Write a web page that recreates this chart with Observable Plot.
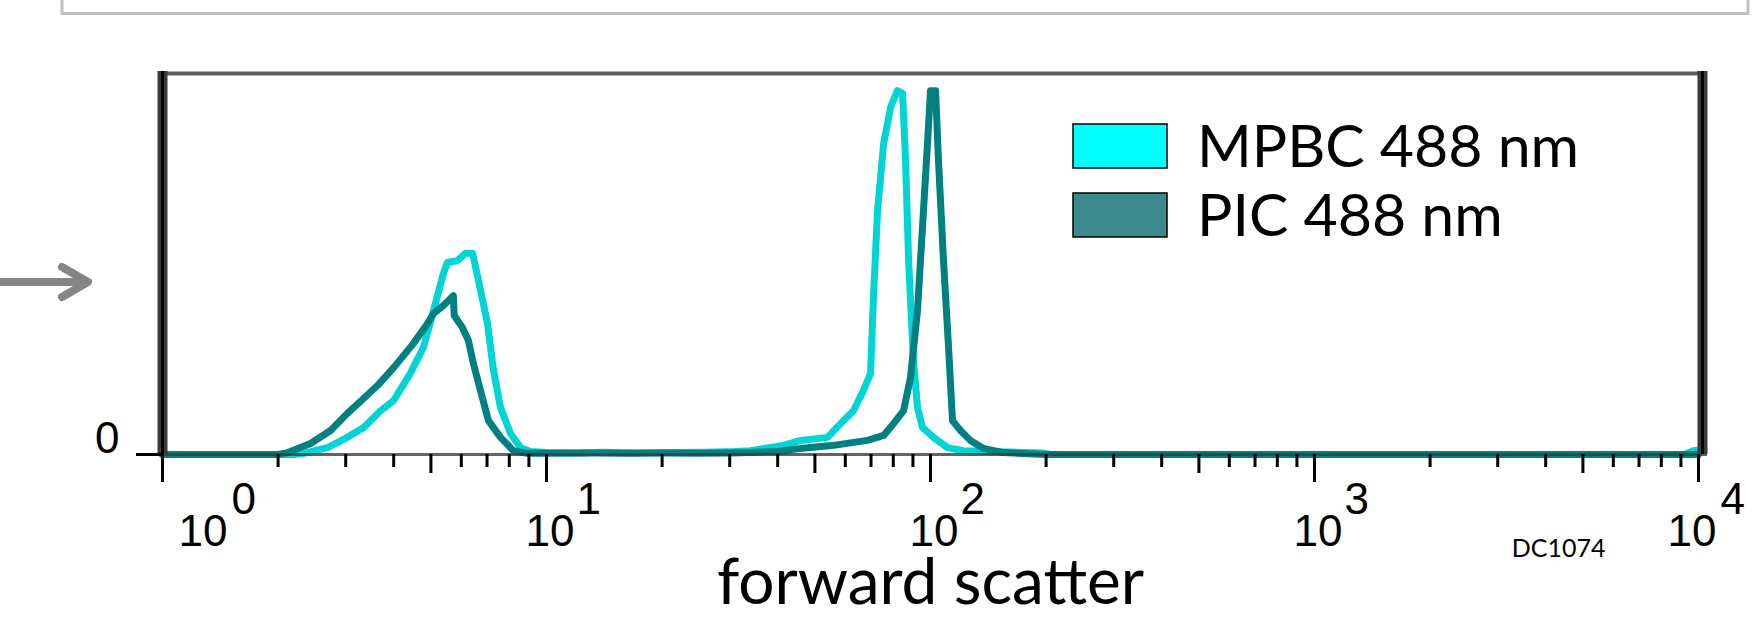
<!DOCTYPE html>
<html><head><meta charset="utf-8">
<script src="https://cdn.jsdelivr.net/npm/d3@7"></script>
<script src="https://cdn.jsdelivr.net/npm/@observablehq/plot@0.6"></script>
<style>
body{margin:0;background:#fff;}
#wrap{position:relative;width:1762px;height:617px;overflow:hidden;background:#fff;}
#overlay{position:absolute;left:0;top:0;}
#chart svg{display:block;}
</style></head><body>
<div id="wrap"><div id="chart"></div></div>
<script>
// ---- data ----
const seriesNames = ["MPBC 488 nm", "PIC 488 nm"];
const mpbcFsc = [1, 2.2, 2.33, 2.69, 3.03, 3.34, 3.7, 4.0, 4.42, 4.78, 5.08, 5.39, 5.52, 5.86, 6.15, 6.42, 6.65, 7.02, 7.28, 7.59, 8.06, 8.56, 9.08,
  10, 12, 14, 17, 21, 26, 31, 34, 41.4, 45.9, 53.9, 58.3, 63.0, 66.9, 69.8, 71.1, 72.8, 75.5, 78.7, 82.0, 84.6, 86.1, 87.7, 90.3, 92.5, 95.3,
  101.8, 110.7, 121.8, 150, 195, 205, 9200, 9700, 10000];
const mpbcCount = [0, 0, 0.3, 1.8, 4.5, 7.1, 11.5, 14.2, 21.3, 28.1, 37.8, 47.5, 50.4, 50.9, 52.8, 52.8, 45.7, 34.4, 22.0, 12.3, 5.5, 1.8, 0.8,
  0.5, 0.4, 0.6, 0.4, 0.5, 0.6, 0.8, 1.0, 2.4, 3.7, 4.5, 8.1, 11.5, 16.8, 21.3, 42.3, 64.0, 81.6, 91.1, 95.5, 94.8, 77.2, 50.9, 24.7, 12.3, 7.1,
  4.5, 1.8, 1.0, 0.7, 0.4, 0, 0, 1.0, 1.2];
const picFsc = [1, 2.0, 2.12, 2.43, 2.74, 3.03, 3.34, 3.63, 4.0, 4.5, 4.9, 5.08, 5.39, 5.72, 5.75, 6.04, 6.26, 6.45, 6.73, 7.06, 7.59, 8.2, 8.92,
  10, 13, 16, 20, 25, 30, 34, 40, 45.9, 55.9, 68.5, 75.5, 80.1, 85.1, 88.7, 92.5, 95.3, 98.2, 100, 103.1, 104.9, 108.1, 111.3, 114.1,
  119.7, 127.0, 137.4, 154.9, 180, 200, 10000];
const picCount = [0, 0, 0.5, 2.9, 6.3, 10.8, 14.7, 18.1, 22.8, 29.1, 34.4, 37.0, 39.1, 41.7, 36.5, 33.3, 29.9, 23.9, 16.8, 8.9, 4.5, 1.0, 0.3,
  0.3, 0.4, 0.3, 0.4, 0.3, 0.4, 0.5, 0.8, 1.6, 2.4, 3.7, 5.0, 8.1, 11.5, 20.2, 37.8, 59.6, 81.6, 95.5, 95.5, 77.2, 50.9, 29.1, 8.9,
  6.3, 3.7, 1.6, 0.5, 0.2, 0, 0];
const majorTicks = [1, 10, 100, 1000, 10000];
const exponentLabels = ["0", "1", "2", "3", "4"];
const midTicks = [5, 50, 500, 5000];
const minorTicks = [2, 3, 4, 6, 7, 8, 9, 20, 30, 40, 60, 70, 80, 90, 200, 300, 400, 600, 700, 800, 900, 2000, 3000, 4000, 6000, 7000, 8000, 9000];
const yTicks = [0];
const xLabel = "forward scatter";
const figureCode = "DC1074";

// ---- styles ----
const lineColors = ["#00d4d4", "#008080"];
const swatchColors = ["#00ffff", "#3d8a8d"];
const digitFont = "Liberation Sans";
const labelFont = "Lato";

const mpbcRows = mpbcFsc.map((x, i) => ({fsc: x, count: mpbcCount[i]}));
const picRows = picFsc.map((x, i) => ({fsc: x, count: picCount[i]}));
const tickRows = majorTicks.map((t, i) => ({t, exp: exponentLabels[i]}));

function tickLabels(filter, dxBase, dxExp) {
  return [
    Plot.text(tickRows, {filter, x: "t", text: () => "10", frameAnchor: "bottom", textAnchor: "end", lineAnchor: "bottom",
      dx: dxBase, dy: 91, fontSize: 44, fontFamily: digitFont, fill: "#000"}),
    Plot.text(tickRows, {filter, x: "t", text: "exp", frameAnchor: "bottom", textAnchor: "start", lineAnchor: "bottom",
      dx: dxExp, dy: 59, fontSize: 44, fontFamily: digitFont, fill: "#000"})
  ];
}

const plot = Plot.plot({
  width: 1762, height: 617,
  marginLeft: 162, marginRight: 64, marginTop: 73, marginBottom: 163,
  x: {type: "log", domain: [1, 10000], axis: null, label: null},
  y: {domain: [0, 100], axis: null, label: null},
  style: {background: "transparent", fontFamily: digitFont, overflow: "visible", color: "#000"},
  marks: [
    Plot.line(mpbcRows, {x: "fsc", y: "count", stroke: lineColors[0], strokeWidth: 7, strokeLinejoin: "round"}),
    Plot.line(picRows, {x: "fsc", y: "count", stroke: lineColors[1], strokeWidth: 7, strokeLinejoin: "round"}),
    Plot.ruleY([0], {stroke: "#3c3c3c", strokeOpacity: 0.8, strokeWidth: 3, insetRight: -9}),
    Plot.ruleY([100], {stroke: "#5f5f5f", strokeWidth: 4, insetLeft: -4, insetRight: -9}),
    Plot.ruleX([1], {stroke: "#3a3a3a", strokeWidth: 10, insetTop: -2}),
    Plot.ruleX([1], {stroke: "#000", strokeWidth: 3, insetTop: -2}),
    Plot.ruleX([10000], {stroke: "#3a3a3a", strokeWidth: 10, insetTop: -2, dx: 4}),
    Plot.ruleX([10000], {stroke: "#000", strokeWidth: 3, insetTop: -2, dx: 4}),
    Plot.axisX({ticks: majorTicks, tickSize: 28, stroke: "#000", strokeWidth: 3, tickFormat: () => "", label: null}),
    Plot.axisX({ticks: midTicks, tickSize: 19, stroke: "#000", strokeWidth: 3, tickFormat: () => "", label: null}),
    Plot.axisX({ticks: minorTicks, tickSize: 13, stroke: "#000", strokeWidth: 3, tickFormat: () => "", label: null}),
    Plot.axisY({ticks: yTicks, tickSize: 26, stroke: "#000", strokeWidth: 3, tickFormat: () => "", label: null}),
    Plot.text(yTicks, {y: d => d, text: d => String(d), frameAnchor: "left", textAnchor: "end", lineAnchor: "bottom",
      dx: -43, dy: -2, fontSize: 44, fontFamily: digitFont, fill: "#000"}),
    ...tickLabels(d => d.t === 1, 65, 69),
    ...tickLabels(d => d.t > 1 && d.t < 10000, 28, 30),
    ...tickLabels(d => d.t === 10000, 18, 22),
    Plot.text([xLabel], {text: d => d, frameAnchor: "bottom", lineAnchor: "bottom", dy: 149, fontSize: 64, fontFamily: labelFont, fill: "#000"}),
    Plot.text([figureCode], {text: d => d, frameAnchor: "bottom-right", textAnchor: "end", lineAnchor: "bottom", dx: -93, dy: 102,
      fontSize: 25, fontFamily: labelFont, fill: "#000"})
  ]
});
document.getElementById("chart").appendChild(plot);

// ---- overlay: top box, arrow, legend ----
const ov = d3.select("#wrap").append("svg").attr("id", "overlay").attr("width", 1762).attr("height", 617);
ov.append("rect").attr("x", 62).attr("y", -20).attr("width", 1686).attr("height", 33.5)
  .attr("fill", "none").attr("stroke", "#c0c0c0").attr("stroke-width", 3);
ov.append("path").attr("d", "M-5,282H86").attr("stroke", "#858585").attr("stroke-width", 8).attr("fill", "none");
ov.append("path").attr("d", "M62,267L88,282L62,297").attr("stroke", "#858585").attr("stroke-width", 8)
  .attr("fill", "none").attr("stroke-linecap", "round").attr("stroke-linejoin", "round");
const lg = ov.selectAll("g.lg").data(seriesNames).join("g").attr("class", "lg")
  .attr("transform", (d, i) => `translate(0,${i * 69})`);
lg.append("rect").attr("x", 1073).attr("y", 124).attr("width", 94).attr("height", 44)
  .attr("fill", (d, i) => swatchColors[i]).attr("stroke", "#000").attr("stroke-width", 1.5);
lg.append("text").attr("x", 1197).attr("y", 167).text(d => d)
  .attr("font-family", labelFont).attr("font-size", 59).attr("fill", "#000");
</script>
</body></html>
